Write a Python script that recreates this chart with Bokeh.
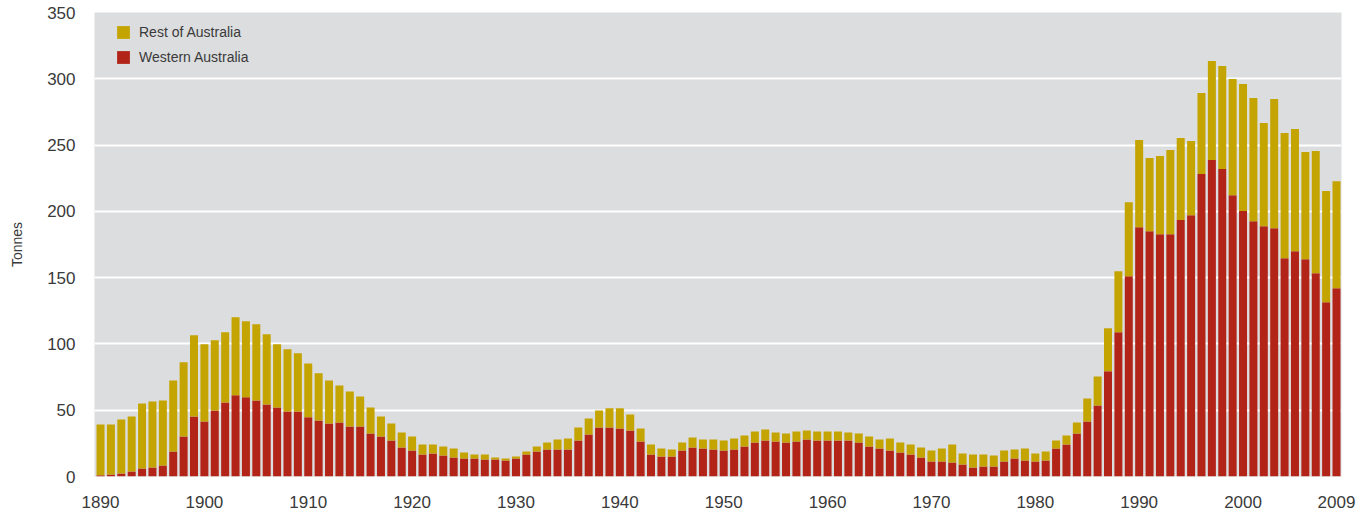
from bokeh.plotting import figure
from bokeh.models import ColumnDataSource, Range1d, FixedTicker, Legend, LegendItem
from bokeh.embed import file_html
from bokeh.resources import INLINE

years = list(range(1890, 2010))

western_australia = [
    1.0, 1.5, 2.3, 3.8, 6.0, 6.8, 8.3, 18.9, 30.2, 45.3,
    41.5, 49.8, 55.9, 61.2, 59.7, 57.4, 54.4, 52.1, 49.1, 49.1,
    44.6, 42.3, 40.0, 40.8, 37.8, 37.8, 32.5, 30.2, 27.2, 21.9,
    19.6, 16.6, 17.4, 15.9, 14.4, 13.6, 13.6, 12.8, 12.8, 12.1,
    13.6, 16.6, 18.9, 20.4, 20.4, 20.4, 27.2, 31.7, 37.0, 37.0,
    36.3, 34.7, 26.4, 16.6, 15.1, 15.1, 19.6, 21.9, 21.1, 20.4,
    19.6, 20.4, 22.7, 25.7, 27.2, 26.4, 25.7, 26.4, 27.9, 27.2,
    27.2, 27.2, 27.2, 25.7, 22.7, 21.1, 19.6, 18.1, 16.6, 14.4,
    11.3, 11.3, 10.6, 9.1, 6.8, 7.6, 7.6, 11.3, 13.6, 12.1,
    11.3, 12.1, 21.1, 24.2, 32.5, 41.5, 53.6, 79.3, 108.8, 151.1,
    188.1, 185.0, 182.8, 182.8, 193.4, 197.1, 228.1, 238.7, 231.9, 212.2,
    200.2, 192.6, 188.8, 187.3, 164.7, 169.9, 163.9, 153.3, 131.4, 142.0,
]

rest_of_australia = [
    38.3, 37.8, 40.7, 41.5, 49.1, 49.8, 49.1, 53.6, 55.9, 61.2,
    58.2, 52.9, 52.9, 58.9, 57.4, 57.4, 52.9, 47.6, 46.8, 43.8,
    40.7, 35.5, 32.5, 27.9, 26.4, 22.6, 19.6, 15.1, 12.8, 11.3,
    10.6, 7.6, 6.8, 6.8, 6.7, 4.5, 3.0, 3.8, 1.6, 1.5,
    1.5, 2.3, 3.8, 5.3, 7.5, 8.3, 9.8, 12.1, 12.8, 14.4,
    15.1, 12.1, 9.9, 7.6, 6.0, 5.3, 6.1, 7.6, 6.8, 7.5,
    7.6, 8.3, 8.3, 8.3, 8.3, 6.8, 6.8, 7.6, 6.8, 6.8,
    6.8, 6.8, 6.0, 6.8, 7.5, 6.8, 9.1, 7.6, 7.6, 7.5,
    8.3, 9.8, 13.6, 8.3, 9.8, 9.0, 8.3, 8.3, 6.8, 9.0,
    6.1, 6.8, 6.1, 6.8, 8.3, 17.4, 21.9, 32.5, 46.0, 55.8,
    65.7, 55.2, 58.9, 63.4, 61.9, 55.9, 61.2, 74.7, 77.8, 87.6,
    95.9, 92.9, 77.8, 97.4, 94.4, 92.2, 80.8, 92.2, 83.9, 80.8,
]

x_ticks = [1890, 1900, 1910, 1920, 1930, 1940, 1950, 1960, 1970, 1980, 1990, 2000, 2009]
y_ticks = [0, 50, 100, 150, 200, 250, 300, 350]

series_names = ["Western Australia", "Rest of Australia"]
series_colors = ["#B22418", "#C4A400"]

source = ColumnDataSource(dict(
    year=years,
    wa=western_australia,
    rest=rest_of_australia,
))

FONT = "Liberation Sans"
TEXT = "#3a3a3a"

p = figure(
    width=1361, height=514,
    output_backend="svg", toolbar_location=None,
    x_range=Range1d(1889.42, 2009.48), y_range=Range1d(0, 350),
    min_border_left=94, min_border_right=20, min_border_top=12, min_border_bottom=38,
    background_fill_color="#DCDDDF", border_fill_color="white",
)
p.outline_line_color = None

renderers = p.vbar_stack(["wa", "rest"], x="year", width=0.77, source=source,
                         color=series_colors, line_color=None)

# grid
p.xgrid.grid_line_color = None
p.ygrid.grid_line_color = "white"
p.ygrid.grid_line_width = 2
p.ygrid.ticker = FixedTicker(ticks=y_ticks)

# x axis
p.xaxis.ticker = FixedTicker(ticks=x_ticks)
p.xaxis.axis_line_color = None
p.xaxis.major_tick_line_color = None
p.xaxis.minor_tick_line_color = None
p.xaxis.major_tick_out = 0
p.xaxis.major_tick_in = 0
p.xaxis.major_label_standoff = 19
p.xaxis.major_label_text_font = FONT
p.xaxis.major_label_text_font_size = "17px"
p.xaxis.major_label_text_color = TEXT

# y axis
p.yaxis.ticker = FixedTicker(ticks=y_ticks)
p.yaxis.axis_line_color = None
p.yaxis.major_tick_line_color = None
p.yaxis.minor_tick_line_color = None
p.yaxis.major_tick_out = 0
p.yaxis.major_tick_in = 0
p.yaxis.major_label_standoff = 19
p.yaxis.major_label_text_font = FONT
p.yaxis.major_label_text_font_size = "17px"
p.yaxis.major_label_text_color = TEXT
p.yaxis.axis_label = "Tonnes"
p.yaxis.axis_label_text_font = FONT
p.yaxis.axis_label_text_font_size = "14px"
p.yaxis.axis_label_text_font_style = "normal"
p.yaxis.axis_label_text_color = TEXT
p.yaxis.axis_label_standoff = 19

legend = Legend(
    items=[
        LegendItem(label=series_names[1], renderers=[renderers[1]]),
        LegendItem(label=series_names[0], renderers=[renderers[0]]),
    ],
    location=(21, 411),
    margin=0, padding=0, spacing=9,
    glyph_width=16, glyph_height=16, label_height=16, label_standoff=8,
    label_text_font=FONT, label_text_font_size="14px", label_text_color=TEXT,
    background_fill_alpha=0, border_line_color=None,
)
p.add_layout(legend)

open("out.html", "w").write(file_html(p, INLINE))
